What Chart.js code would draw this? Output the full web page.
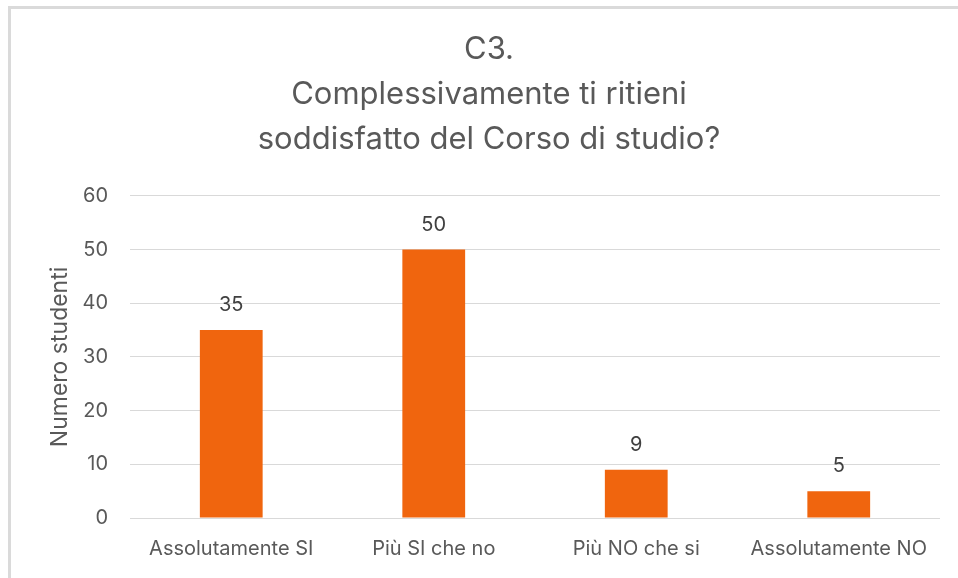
<!DOCTYPE html>
<html>
<head>
<meta charset="utf-8">
<script src="https://cdn.jsdelivr.net/npm/chart.js@4"></script>
<style>
  html, body { margin: 0; padding: 0; background: #ffffff; }
  #wrap { position: relative; width: 958px; height: 578px; }
  canvas { display: block; }
</style>
</head>
<body>
<div id="wrap"><canvas id="c" width="958" height="578"></canvas></div>
<script>
const categories = ["Assolutamente SI", "Più SI che no", "Più NO che si", "Assolutamente NO"];
const values = [35, 50, 9, 5];
const titleLines = ["C3.", "Complessivamente ti ritieni", "soddisfatto del Corso di studio?"];
const yAxisTitle = "Numero studenti";

const FONT = "Inter, 'Open Sans', sans-serif";

const framePlugin = {
  id: 'frame',
  beforeDraw(chart) {
    const ctx = chart.ctx;
    ctx.save();
    ctx.fillStyle = '#ffffff';
    ctx.fillRect(0, 0, chart.width, chart.height);
    ctx.strokeStyle = '#DADADA';
    ctx.lineWidth = 3;
    ctx.beginPath();
    ctx.moveTo(9.5, chart.height + 5);
    ctx.lineTo(9.5, 7.5);
    ctx.lineTo(chart.width + 5, 7.5);
    ctx.stroke();
    ctx.restore();
  }
};

const labelPlugin = {
  id: 'valueLabels',
  afterDatasetsDraw(chart) {
    const ctx = chart.ctx;
    const meta = chart.getDatasetMeta(0);
    ctx.save();
    ctx.fillStyle = '#404040';
    ctx.font = "20px " + FONT;
    ctx.textAlign = 'center';
    ctx.textBaseline = 'middle';
    meta.data.forEach((bar, i) => {
      ctx.fillText(String(values[i]), bar.x, bar.y - 25);
    });
    ctx.restore();
  }
};

new Chart(document.getElementById('c'), {
  type: 'bar',
  data: {
    labels: categories,
    datasets: [{
      data: values,
      backgroundColor: '#F0650E',
      borderWidth: 0,
      categoryPercentage: 1.0,
      barPercentage: 0.31
    }]
  },
  options: {
    responsive: false,
    animation: false,
    devicePixelRatio: 1,
    layout: { padding: { left: 38, right: 18, top: 27, bottom: 0 } },
    plugins: {
      legend: { display: false },
      tooltip: { enabled: false },
      title: {
        display: true,
        text: titleLines,
        color: '#595959',
        font: { family: FONT, size: 31, weight: 'normal', lineHeight: 1.45 },
        padding: { top: 0, bottom: 34 }
      }
    },
    scales: {
      x: {
        afterFit(scale) { scale.height = 60; },
        grid: { display: false, drawTicks: false },
        border: { display: false },
        ticks: { color: '#595959', font: { family: FONT, size: 20 }, padding: 19, maxRotation: 0, autoSkip: false }
      },
      y: {
        min: 0, max: 60,
        afterFit(scale) { scale.width = 92; },
        grid: { color: '#D9D9D9', lineWidth: 1, drawTicks: false },
        border: { display: false },
        ticks: { stepSize: 10, color: '#595959', font: { family: FONT, size: 20 }, padding: 22 },
        title: {
          display: true,
          text: yAxisTitle,
          color: '#595959',
          font: { family: FONT, size: 23, weight: 'normal', lineHeight: 1.2 },
          padding: { top: 8, bottom: 0 }
        }
      }
    }
  },
  plugins: [framePlugin, labelPlugin]
});
</script>
</body>
</html>
